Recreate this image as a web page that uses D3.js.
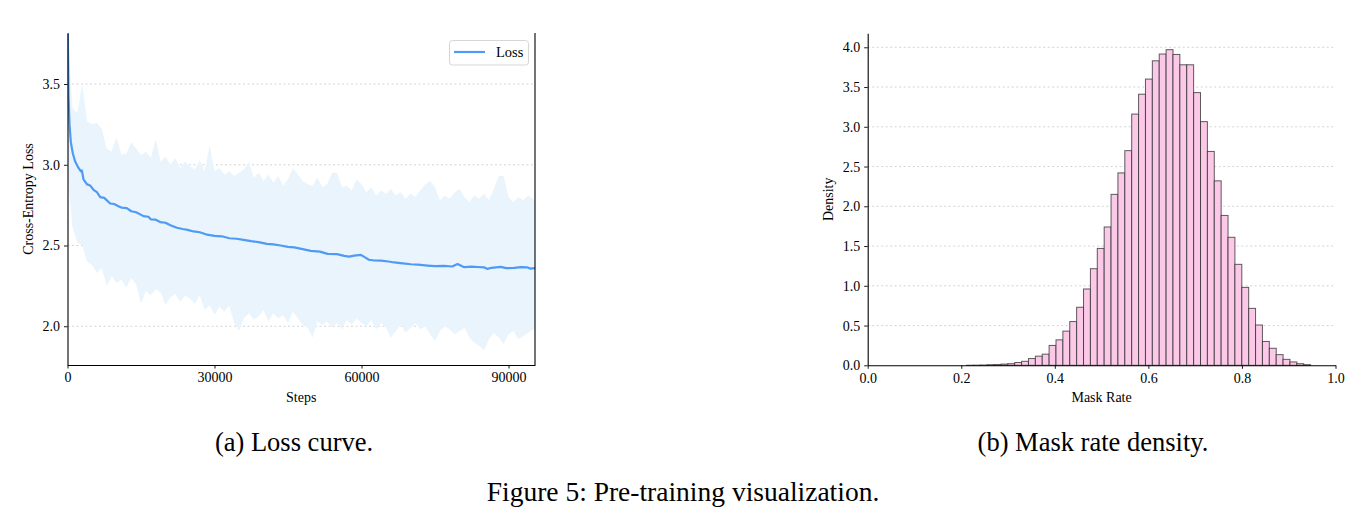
<!DOCTYPE html>
<html>
<head>
<meta charset="utf-8">
<script src="https://cdn.jsdelivr.net/npm/d3@7"></script>
<style>
  body { margin: 0; background: #fff; }
  svg { display: block; }
  text { font-family: "Liberation Serif", "Times New Roman", serif; fill: #000; }
</style>
</head>
<body>
<svg id="fig" width="1368" height="525"></svg>
<script>
// ---- (a) loss curve data ----
const lossSteps = [0, 100, 204, 408, 680, 1088, 1565, 2245, 2700, 2925, 3265, 3946, 4600, 5306, 6000, 6667, 7500, 8707, 9500, 10500,
  11000, 12109, 13000, 14000, 15510, 16500, 17000, 18000, 18912, 20000, 21000, 22313, 23500, 24500, 25714, 27000, 28500, 30000,
  31500, 33000, 34500, 35918, 37500, 39000, 40680, 42000, 43500, 45000, 46259, 47500, 49660, 51500, 53061, 55000, 56463, 57500,
  58500, 59864, 60800, 61500, 62585, 64000, 65500, 66667, 68000, 70068, 71500, 73469, 75000, 76871, 78500, 79592, 80952, 82500,
  83673, 85000, 85714, 86500, 88435, 89500, 91156, 92500, 93878, 94500, 95400];
const lossValues = [4.30, 3.70, 3.43, 3.25, 3.14, 3.07, 3.02, 2.98, 2.96, 2.965, 2.91, 2.88, 2.872, 2.845, 2.83, 2.80, 2.795, 2.76, 2.757, 2.742,
  2.735, 2.731, 2.712, 2.706, 2.682, 2.678, 2.662, 2.66, 2.645, 2.641, 2.626, 2.61, 2.602, 2.597, 2.587, 2.582, 2.567, 2.56,
  2.557, 2.545, 2.542, 2.535, 2.527, 2.521, 2.51, 2.507, 2.50, 2.492, 2.488, 2.481, 2.467, 2.462, 2.448, 2.447, 2.436, 2.431,
  2.437, 2.442, 2.425, 2.412, 2.407, 2.406, 2.401, 2.395, 2.391, 2.384, 2.381, 2.376, 2.372, 2.374, 2.370, 2.385, 2.366, 2.369,
  2.367, 2.365, 2.355, 2.362, 2.368, 2.360, 2.361, 2.366, 2.364, 2.357, 2.360];

// raw-loss spread (upper / lower envelope), one value every 1000 steps
const bandSteps = d3.range(0, 96000, 1000).concat([95400]).filter(s => s <= 95400);
const bandHigh = [3.90, 3.35, 3.32, 3.50, 3.27, 3.25, 3.26, 3.22, 3.10, 3.08, 3.17, 3.06, 3.07, 3.14, 3.10, 3.06, 3.08, 3.04, 3.16, 3.02,
  3.05, 3.00, 3.04, 2.98, 3.02, 2.99, 2.97, 3.03, 2.96, 3.12, 2.96, 2.98, 2.94, 2.96, 2.93, 2.95, 2.97, 3.02, 2.92, 2.95,
  2.90, 2.94, 2.89, 2.93, 2.87, 2.91, 2.98, 2.94, 2.90, 2.88, 2.87, 2.92, 2.86, 2.88, 2.95, 2.95, 2.86, 2.87, 2.84, 2.91,
  2.88, 2.83, 2.86, 2.81, 2.84, 2.82, 2.85, 2.81, 2.83, 2.79, 2.82, 2.80, 2.84, 2.88, 2.90, 2.86, 2.78, 2.81, 2.79, 2.83,
  2.85, 2.80, 2.77, 2.81, 2.79, 2.82, 2.78, 2.85, 2.93, 2.93, 2.80, 2.77, 2.80, 2.78, 2.81, 2.79, 2.78];
const bandLow = [2.95, 2.62, 2.52, 2.50, 2.40, 2.38, 2.33, 2.36, 2.25, 2.31, 2.27, 2.29, 2.24, 2.30, 2.26, 2.14, 2.22, 2.19, 2.23, 2.21,
  2.13, 2.18, 2.20, 2.15, 2.19, 2.17, 2.14, 2.19, 2.10, 2.13, 2.07, 2.12, 2.09, 2.13, 2.02, 1.97, 2.05, 2.08, 2.04, 2.06,
  2.10, 2.03, 2.08, 2.05, 2.07, 2.02, 2.09, 2.05, 2.01, 1.99, 1.93, 2.03, 2.01, 2.03, 1.99, 2.02, 1.98, 2.04, 2.01, 2.05,
  2.02, 2.00, 2.04, 1.98, 2.02, 1.99, 1.93, 1.97, 2.01, 1.96, 1.99, 2.02, 1.98, 2.00, 1.95, 1.91, 1.97, 2.00, 1.98, 1.95,
  1.97, 1.99, 1.93, 1.90, 1.88, 1.85, 1.92, 1.96, 1.93, 1.89, 1.95, 1.97, 1.92, 1.94, 1.96, 1.98, 1.97];
const lossXTicks = [0, 30000, 60000, 90000];
const lossYTicks = [2.0, 2.5, 3.0, 3.5];

// ---- (b) mask rate histogram data ----
const binStart = 0.2113;
const binWidth = 0.01471;
const density = [0.001, 0.002, 0.004, 0.008, 0.010, 0.015, 0.020, 0.035, 0.050, 0.085,
  0.115, 0.14, 0.25, 0.32, 0.43, 0.55, 0.73, 0.96, 1.215, 1.47,
  1.74, 2.15, 2.42, 2.70, 3.16, 3.41, 3.60, 3.83, 3.915, 3.97,
  3.91, 3.78, 3.78, 3.43, 3.065, 2.69, 2.32, 1.885, 1.61, 1.27,
  0.98, 0.716, 0.507, 0.30, 0.214, 0.134, 0.075, 0.042, 0.02, 0.008];
const maskXTicks = [0.0, 0.2, 0.4, 0.6, 0.8, 1.0];
const maskYTicks = [0.0, 0.5, 1.0, 1.5, 2.0, 2.5, 3.0, 3.5, 4.0];

const svg = d3.select("#fig");
const tickFont = 14;

function styleAxis(g) {
  g.selectAll(".domain").attr("stroke", "#000").attr("stroke-width", 1.1);
  g.selectAll(".tick line").attr("stroke", "#000").attr("stroke-width", 0.9);
  g.selectAll(".tick text")
    .style("font-family", '"Liberation Serif", serif')
    .style("font-size", tickFont + "px")
    .attr("fill", "#111");
}

function grid(g, ys, x0, x1, yScale) {
  g.selectAll("line.grid")
    .data(ys)
    .join("line")
    .attr("class", "grid")
    .attr("x1", x0).attr("x2", x1)
    .attr("y1", d => yScale(d)).attr("y2", d => yScale(d))
    .attr("stroke", "#c8c8c8")
    .attr("stroke-width", 0.8)
    .attr("stroke-dasharray", "2,2.5");
}

// ================= (a) Loss curve =================
{
  const left = 67.5, right = 535, top = 33, bottom = 365;
  const x = d3.scaleLinear().domain([0, 95400]).range([left, right]);
  const y = d3.scaleLinear().domain([1.76, 3.816]).range([bottom, top]);

  svg.append("clipPath").attr("id", "clipA")
    .append("rect").attr("x", left).attr("y", top).attr("width", right - left).attr("height", bottom - top);

  const g = svg.append("g");
  grid(g, lossYTicks, left, right, y);

  const plot = g.append("g").attr("clip-path", "url(#clipA)");

  const band = bandSteps.map((s, i) => ({ s, hi: bandHigh[i], lo: bandLow[i] }));
  plot.append("path")
    .datum(band)
    .attr("fill", "#e9f4fc")
    .attr("d", d3.area().x(d => x(d.s)).y0(d => y(d.lo)).y1(d => y(d.hi)));

  const line = lossSteps.map((s, i) => ({ s, v: lossValues[i] }));
  plot.append("path")
    .datum(line)
    .attr("fill", "none")
    .attr("stroke", "#4e9af5")
    .attr("stroke-width", 2.2)
    .attr("stroke-linejoin", "round")
    .attr("d", d3.line().x(d => x(d.s)).y(d => y(d.v)));

  const xAxis = g.append("g")
    .attr("transform", `translate(0,${bottom})`)
    .call(d3.axisBottom(x).tickValues(lossXTicks).tickFormat(d3.format("d")).tickSize(3.5).tickPadding(4).tickSizeOuter(0));
  styleAxis(xAxis);

  const yAxis = g.append("g")
    .attr("transform", `translate(${left},0)`)
    .call(d3.axisLeft(y).tickValues(lossYTicks).tickFormat(d3.format(".1f")).tickSize(3.5).tickPadding(4).tickSizeOuter(0));
  styleAxis(yAxis);

  // right spine
  g.append("line")
    .attr("x1", right).attr("x2", right).attr("y1", top).attr("y2", bottom)
    .attr("stroke", "#000").attr("stroke-width", 1.1);

  g.append("text")
    .attr("x", (left + right) / 2).attr("y", 402)
    .attr("text-anchor", "middle").style("font-size", "14px")
    .text("Steps");
  g.append("text")
    .attr("transform", `translate(33,${(top + bottom) / 2}) rotate(-90)`)
    .attr("text-anchor", "middle").style("font-size", "14px")
    .text("Cross-Entropy Loss");

  // legend
  const lg = g.append("g");
  lg.append("rect")
    .attr("x", 449.5).attr("y", 40.5).attr("width", 79).attr("height", 24.5).attr("rx", 3)
    .attr("fill", "#fff").attr("fill-opacity", 0.8)
    .attr("stroke", "#d6d6d6").attr("stroke-width", 1);
  lg.append("line")
    .attr("x1", 454).attr("x2", 485).attr("y1", 52).attr("y2", 52)
    .attr("stroke", "#4e9af5").attr("stroke-width", 2.2);
  lg.append("text")
    .attr("x", 496).attr("y", 57).style("font-size", "14.5px")
    .text("Loss");
}

// ================= (b) Mask rate density =================
{
  const left = 867.7, right = 1335.5, top = 33.3, bottom = 365.3;
  const x = d3.scaleLinear().domain([0, 1]).range([left, right]);
  const y = d3.scaleLinear().domain([0, 4.176]).range([bottom, top]);

  const g = svg.append("g");
  grid(g, maskYTicks.slice(1), left, right, y);

  const bins = density.map((d, i) => ({ x0: binStart + i * binWidth, x1: binStart + (i + 1) * binWidth, d }));
  g.append("g")
    .selectAll("rect")
    .data(bins)
    .join("rect")
    .attr("x", d => x(d.x0))
    .attr("y", d => y(d.d))
    .attr("width", d => x(d.x1) - x(d.x0))
    .attr("height", d => y(0) - y(d.d))
    .attr("fill", "#fbc8e8")
    .attr("stroke", "#2a2a2a")
    .attr("stroke-opacity", 0.75)
    .attr("stroke-width", 1);

  const xAxis = g.append("g")
    .attr("transform", `translate(0,${bottom})`)
    .call(d3.axisBottom(x).tickValues(maskXTicks).tickFormat(d3.format(".1f")).tickSize(3.5).tickPadding(4).tickSizeOuter(0));
  styleAxis(xAxis);

  const yAxis = g.append("g")
    .attr("transform", `translate(${left},0)`)
    .call(d3.axisLeft(y).tickValues(maskYTicks).tickFormat(d3.format(".1f")).tickSize(3.5).tickPadding(4).tickSizeOuter(0));
  styleAxis(yAxis);

  g.append("text")
    .attr("x", (left + right) / 2).attr("y", 402)
    .attr("text-anchor", "middle").style("font-size", "14px")
    .text("Mask Rate");
  g.append("text")
    .attr("transform", `translate(833,${(top + bottom) / 2}) rotate(-90)`)
    .attr("text-anchor", "middle").style("font-size", "14px")
    .text("Density");
}

// ================= captions =================
svg.append("text")
  .attr("x", 294).attr("y", 451)
  .attr("text-anchor", "middle").style("font-size", "26.5px")
  .text("(a) Loss curve.");
svg.append("text")
  .attr("x", 1093).attr("y", 451)
  .attr("text-anchor", "middle").style("font-size", "26.5px")
  .text("(b) Mask rate density.");
svg.append("text")
  .attr("x", 683).attr("y", 501)
  .attr("text-anchor", "middle").style("font-size", "27.5px")
  .text("Figure 5: Pre-training visualization.");
</script>
</body>
</html>
